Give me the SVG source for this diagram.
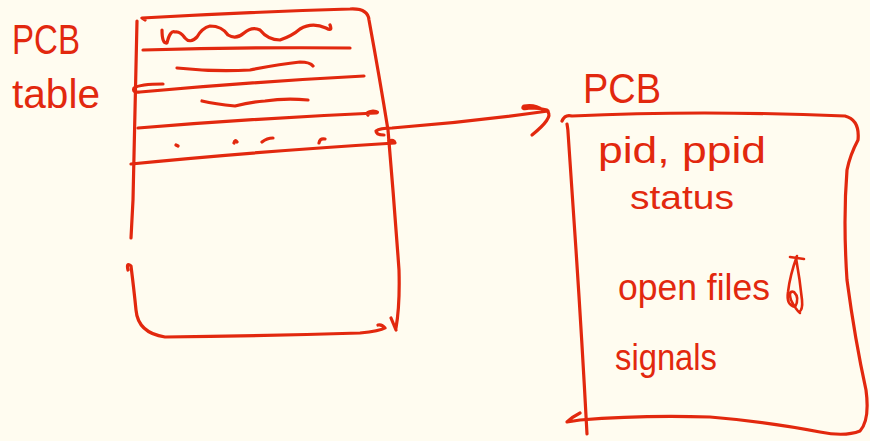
<svg xmlns="http://www.w3.org/2000/svg" width="870" height="441" viewBox="0 0 870 441">
<style>
.ink{fill:none;stroke:#e2280e;stroke-width:3.2;stroke-linecap:round;stroke-linejoin:round}
.thin{stroke-width:2.6}
.hw{font-family:"Liberation Sans","DejaVu Sans",sans-serif;fill:#e2280e}
</style>
<rect width="870" height="441" fill="#fffcf0"/>
<g id="pcb-table">
  <text class="hw" x="12" y="54" font-size="42" textLength="68" lengthAdjust="spacingAndGlyphs">PCB</text>
  <text class="hw" x="12" y="108" font-size="40" textLength="88" lengthAdjust="spacingAndGlyphs">table</text>
  <path class="ink" d="M145,20 L142,18 Q250,12 350,9 Q368,8 369,20 Q380,80 388,130 Q394,200 399,270 Q400,305 396,328"/>
  <path class="ink" d="M391,318 L396,330"/>
  <path class="ink" d="M137,21 Q135,120 133,200 L131,238"/>
  <path class="ink" d="M128,270 Q126,262 131,266 Q134,290 136,310 Q138,333 165,337 Q260,336 360,333 Q380,331 385,328 Q382,324 378,325"/>
  <path class="ink" d="M162,30 Q162,44 167,43 Q170,30 175,32 Q180,31 185,38 Q190,44 197,37 Q202,28 210,26 Q222,26 228,35 Q236,40 244,33 Q252,26 260,30 Q268,40 280,40 Q292,36 300,29 Q312,22 326,28 Q333,32 330,25"/>
  <path class="ink" d="M143,50 Q250,47 350,48"/>
  <path class="ink" d="M177,68 Q215,72 250,70 Q280,64 300,62 Q310,62 313,66"/>
  <path class="ink" d="M163,84 Q140,84 134,88 Q132,93 140,92 Q250,82 364,76"/>
  <path class="ink" d="M202,101 Q215,104 235,106 Q250,102 265,101 Q285,98 308,100"/>
  <path class="ink" d="M138,128 Q260,118 376,113 Q380,112 373,111 Q365,112 368,115"/>
  <path class="ink" d="M176,145 L178,146 M234,143 Q235,139 237,142 M262,142 Q267,138 273,138 M319,143 Q320,138 325,139"/>
  <path class="ink" d="M131,164 Q250,152 395,143 Q394,139 389,141"/>
</g>
<g id="connectors">
  <path class="ink" d="M384,135 Q376,135 376,131 Q380,128 392,128 Q470,122 548,111"/>
  <path class="ink" d="M548,112 Q553,118 532,135"/>
  <path class="ink" d="M543,110 Q535,104 524,106 Q520,110 530,108 Q540,108 547,110"/>
</g>
<g id="pcb">
  <text class="hw" x="583" y="103" font-size="42" textLength="78" lengthAdjust="spacingAndGlyphs">PCB</text>
  <path class="ink" d="M562,121 Q565,114 572,116 Q700,110 845,116 Q860,120 858,140 Q850,155 847,170 Q843,220 847,280 Q855,340 866,390 Q870,420 860,431 Q845,437 820,432 Q770,422 710,417 Q640,415 580,420 L567,422 Q572,417 580,413"/>
  <path class="ink" d="M567,124 Q568,130 568,132 Q572,190 576,250 Q582,340 587,434"/>
  <text class="hw" x="598" y="163" font-size="36" textLength="168" lengthAdjust="spacingAndGlyphs">pid, ppid</text>
  <text class="hw" x="630" y="209" font-size="34" textLength="104" lengthAdjust="spacingAndGlyphs">status</text>
  <text class="hw" x="618" y="300" font-size="36" textLength="152" lengthAdjust="spacingAndGlyphs">open files</text>
  <path class="ink thin" d="M790,257 L804,259 M797,256 Q790,275 788,292 Q786,305 795,307 Q800,298 794,292 Q788,290 791,300 Q796,310 800,313 M796,258 Q800,280 802,300 Q803,310 799,312"/>
  <text class="hw" x="615" y="370" font-size="36" textLength="102" lengthAdjust="spacingAndGlyphs">signals</text>
</g>
</svg>
